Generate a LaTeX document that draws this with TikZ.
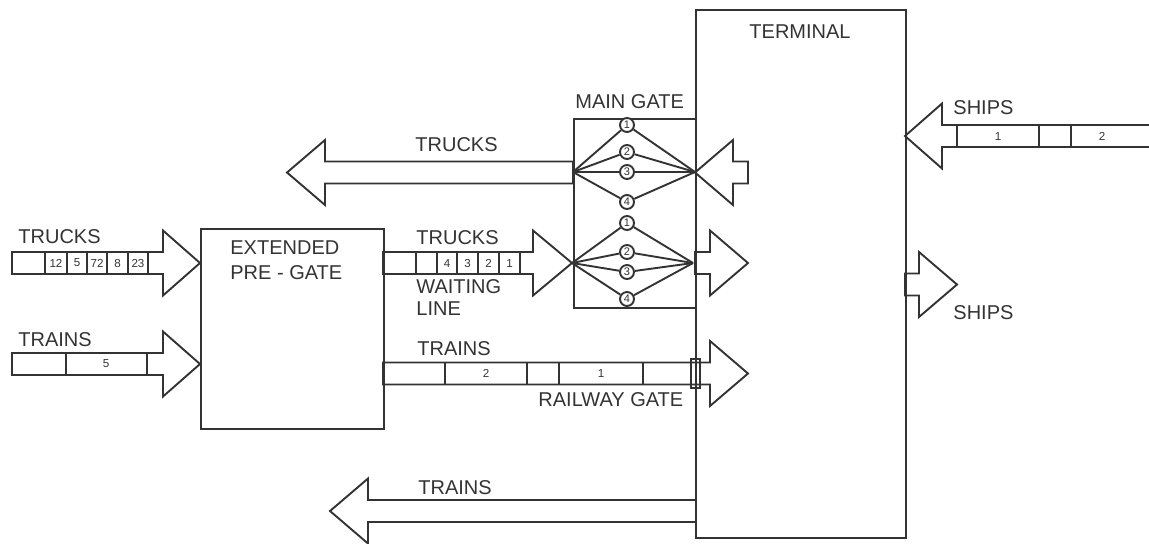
\documentclass[tikz,border=0pt]{standalone}
\usepackage{fontspec}
\setmainfont{Liberation Sans}
\usetikzlibrary{positioning}

% block arrow: tail x, head base x, tip x, middle y
\newcommand{\hollowarrow}[4]{%
  \draw[outline] (#1,#4-11) -- (#2,#4-11) -- (#2,#4-32.5) -- (#3,#4)
    -- (#2,#4+32.5) -- (#2,#4+11) -- (#1,#4+11) -- cycle;}

\tikzset{
  outline/.style={line width=0.95pt, draw=black!80, line join=miter},
  blockbox/.style={outline, draw, inner sep=0pt, anchor=north west},
  lbl/.style={font=\fontsize{10}{12}\selectfont, text=black!80, inner sep=0pt, anchor=west},
  cellnum/.style={font=\fontsize{5.8}{6}\selectfont, text=black!80, inner sep=0pt},
  gatecircle/.style={outline, draw, circle, fill=white, minimum size=7pt, inner sep=0pt,
    font=\fontsize{5.5}{6}\selectfont, text=black!80},
}

\begin{document}
\begin{tikzpicture}[x=0.5pt, y=-0.5pt]
        \useasboundingbox (0,0) rectangle (1149,543);

        % boxes
        \node[blockbox, minimum width=91.5pt, minimum height=100pt] (pregate) at (200,228) {};
        \node[blockbox, minimum width=61pt, minimum height=94.5pt] (maingate) at (573,118) {};
        \node[blockbox, minimum width=105pt, minimum height=264pt] (terminal) at (695,9) {};

        \node[lbl, align=left, anchor=north west, font=\fontsize{10}{12.5}\selectfont] (pregatetxt) at (230,240) {EXTENDED\\PRE - GATE};
        \node[lbl] (maingatetxt) at (575,102) {MAIN GATE};
        \node[lbl, anchor=center] (terminaltxt) at (800,32) {TERMINAL};

        % incoming trucks
        \hollowarrow{12}{163}{200}{263}
        \foreach \x in {45,67,87,107,128,148}
          \draw[outline] (\x,252) -- (\x,274);
        \foreach \x/\t [count=\i] in {56/12,77/5,97/72,117.5/8,138/23}
          \node[cellnum] (tin\i) at (\x,263) {\t};
        \node[lbl] (trucksin) at (18,237) {TRUCKS};

        % incoming trains
        \hollowarrow{12}{163}{200}{364}
        \foreach \x in {66,147}
          \draw[outline] (\x,353) -- (\x,375);
        \node[cellnum] (rin1) at (106,364) {5};
        \node[lbl] (trainsin) at (18,340) {TRAINS};

        % waiting line to main gate
        \hollowarrow{383}{533}{572}{263}
        \foreach \x in {416,437,457,478,499,520}
          \draw[outline] (\x,252) -- (\x,274);
        \foreach \x/\t [count=\i] in {447/4,467.5/3,488.5/2,509.5/1}
          \node[cellnum] (wl\i) at (\x,263) {\t};
        \node[lbl] (truckswait) at (416,238) {TRUCKS};
        \node[lbl, align=left, anchor=north west, font=\fontsize{10}{11}\selectfont] (waittxt) at (416,279) {WAITING\\LINE};

        % trucks leaving
        \hollowarrow{573}{325}{287}{172.5}
        \node[lbl] (trucksout) at (415,145) {TRUCKS};
        \hollowarrow{748}{733}{695}{172.5}

        % main gate lanes
        \coordinate (ul) at (573,172);
        \coordinate (ur) at (695,172);
        \coordinate (ll) at (572,263);
        \coordinate (lr) at (693,263);
        \hollowarrow{695}{710}{748}{263}
        \foreach \i/\y in {1/125,2/152,3/172,4/202} {
          \node[gatecircle] (u\i) at (627,\y) {\i};
          \draw[outline] (ul) -- (u\i) -- (ur);
        }
        \foreach \i/\y in {1/223,2/252,3/272,4/299} {
          \node[gatecircle] (l\i) at (627,\y) {\i};
          \draw[outline] (ll) -- (l\i) -- (lr);
        }

        % trains through railway gate
        \hollowarrow{383}{710}{748}{373.5}
        \foreach \x in {445,527,559,643}
          \draw[outline] (\x,363) -- (\x,384);
        \node[cellnum] (rg1) at (486,373.5) {2};
        \node[cellnum] (rg2) at (601,373.5) {1};
        \node[outline, draw, minimum width=4.5pt, minimum height=14.5pt, inner sep=0pt] (railgate) at (695.5,373.5) {};
        \node[lbl] (trainsgate) at (417,349) {TRAINS};
        \node[lbl] (railgatetxt) at (538,400) {RAILWAY GATE};

        % trains leaving
        \hollowarrow{696}{368}{330}{511}
        \node[lbl] (trainsout) at (418,488) {TRAINS};

        % ships
        \hollowarrow{1160}{942}{905}{136}
        \foreach \x in {957,1039,1071}
          \draw[outline] (\x,125) -- (\x,147);
        \node[cellnum] (sh1) at (998,136) {1};
        \node[cellnum] (sh2) at (1102,136) {2};
        \node[lbl] (shipsin) at (953,108) {SHIPS};
        \hollowarrow{905}{919}{957}{284.5}
        \node[lbl] (shipsout) at (953,313) {SHIPS};
      \end{tikzpicture}
\end{document}
